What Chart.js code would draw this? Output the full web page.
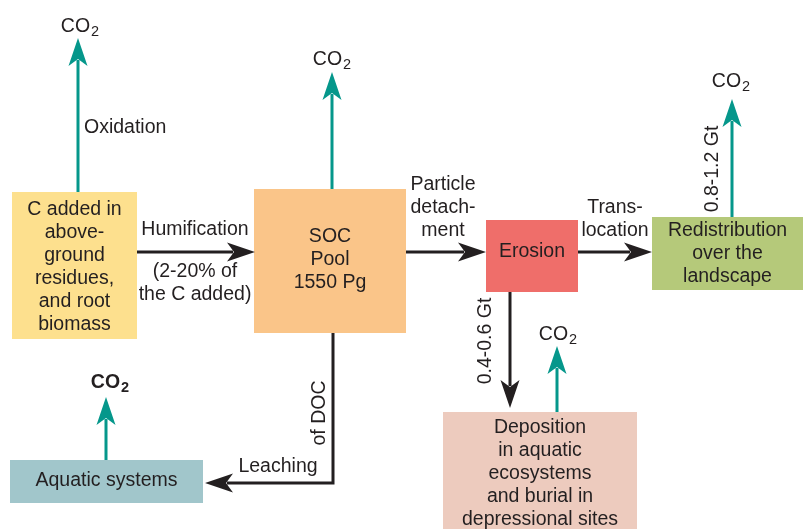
<!DOCTYPE html>
<html>
<head>
<meta charset="utf-8">
<script src="https://cdn.jsdelivr.net/npm/chart.js@4.4.1/dist/chart.umd.min.js"></script>
<style>
  html, body { margin: 0; padding: 0; background: #fff; }
  #chart { display: block; }
</style>
</head>
<body>
<canvas id="chart" width="803" height="529"></canvas>
<script>
// Pools of the soil carbon budget, one entry per line of text
const boxLines = [
  ['C added in', 'above-', 'ground', 'residues,', 'and root', 'biomass'],
  ['SOC', 'Pool', '1550 Pg'],
  ['Erosion'],
  ['Redistribution', 'over the', 'landscape'],
  ['Deposition', 'in aquatic', 'ecosystems', 'and burial in', 'depressional sites'],
  ['Aquatic systems']
];

// Process labels on the flows
const oxidationLabel = ['Oxidation'];
const humificationLabel = ['Humification'];
const humificationShare = ['(2-20% of', 'the C added)'];
const detachmentLabel = ['Particle', 'detach-', 'ment'];
const translocationLabel = ['Trans-', 'location'];
const leachingLabel = ['Leaching'];
const docLabel = 'of DOC';

// Fluxes (rotated labels)
const depositionFlux = '0.4-0.6 Gt';
const emissionFlux = '0.8-1.2 Gt';

// Gas released
const gasName = 'CO';
const gasIndex = '2';

// ---- layout (diagram units = pixels of the 803x529 frame) ----
const boxRects = [
  [12, 192, 137, 339],
  [254, 189, 406, 333],
  [486, 220, 578, 292],
  [652, 217, 803, 290],
  [443, 412, 637, 535],
  [10, 460, 203, 503]
];
const boxTextCenter = [267, 260, 252, 254, 474, 481];
const boxColors = ['#fde08e', '#fac589', '#ef6e6a', '#b5c97a', '#edcbbe', '#a1c6cb'];

// teal CO2 arrows: x, from y, tip y, label centre x, label baseline, bold
const gasArrows = [
  [78, 192, 38, 80, 32, false],
  [332, 189, 72, 332, 65, false],
  [732, 217, 99, 731, 87, false],
  [557, 412, 346, 558, 340, false],
  [106, 460, 397, 110, 388, true]
];

const TEAL = '#05978b';
const INK = '#231f20';
const FONT = '"Liberation Sans", Arial, sans-serif';

function drawArrowHead(ctx, x1, y1, x2, y2, color) {
  const dx = x2 - x1, dy = y2 - y1;
  const len = Math.hypot(dx, dy);
  const ux = dx / len, uy = dy / len;
  const nx = -uy, ny = ux;
  const L = 28, W = 9.5, N = 21;
  ctx.fillStyle = color;
  ctx.beginPath();
  ctx.moveTo(x2, y2);
  ctx.lineTo(x2 - ux * L + nx * W, y2 - uy * L + ny * W);
  ctx.lineTo(x2 - ux * N, y2 - uy * N);
  ctx.lineTo(x2 - ux * L - nx * W, y2 - uy * L - ny * W);
  ctx.closePath();
  ctx.fill();
}

function drawArrow(ctx, pts, color) {
  // pts: list of [x, y] pixel points, arrowhead at last
  const n = pts.length;
  const [ax, ay] = pts[n - 2];
  const [bx, by] = pts[n - 1];
  const len = Math.hypot(bx - ax, by - ay);
  const ex = bx - (bx - ax) / len * 22, ey = by - (by - ay) / len * 22;
  ctx.strokeStyle = color;
  ctx.lineWidth = 3;
  ctx.lineJoin = 'miter';
  ctx.beginPath();
  ctx.moveTo(pts[0][0], pts[0][1]);
  for (let i = 1; i < n - 1; i++) ctx.lineTo(pts[i][0], pts[i][1]);
  ctx.lineTo(ex, ey);
  ctx.stroke();
  drawArrowHead(ctx, ax, ay, bx, by, color);
}

function drawLines(ctx, lines, cx, cy, lh) {
  ctx.textAlign = 'center';
  ctx.textBaseline = 'middle';
  const top = cy - (lines.length - 1) * lh / 2;
  lines.forEach((t, i) => ctx.fillText(t, cx, top + i * lh));
}

function drawRotated(ctx, text, cx, cy) {
  ctx.save();
  ctx.translate(cx, cy);
  ctx.rotate(-Math.PI / 2);
  ctx.textAlign = 'center';
  ctx.textBaseline = 'middle';
  ctx.fillText(text, 0, 0);
  ctx.restore();
}

function drawGas(ctx, cx, base, bold) {
  const w = bold ? 'bold ' : '';
  const big = w + '19.5px ' + FONT;
  const small = w + '14.5px ' + FONT;
  ctx.textAlign = 'left';
  ctx.textBaseline = 'alphabetic';
  ctx.font = big;
  const w1 = ctx.measureText(gasName).width;
  ctx.font = small;
  const w2 = ctx.measureText(gasIndex).width;
  const x0 = cx - (w1 + w2 + 1) / 2;
  ctx.font = big;
  ctx.fillText(gasName, x0, base);
  ctx.font = small;
  ctx.fillText(gasIndex, x0 + w1 + 1, base + 4);
}

const diagramPlugin = {
  id: 'diagram',
  afterDraw(chart) {
    const ctx = chart.ctx;
    const X = v => chart.scales.x.getPixelForValue(v);
    const Y = v => chart.scales.y.getPixelForValue(v);
    ctx.save();

    // pools
    boxRects.forEach((r, i) => {
      ctx.fillStyle = boxColors[i];
      ctx.fillRect(X(r[0]), Y(r[1]), X(r[2]) - X(r[0]), Y(r[3]) - Y(r[1]));
    });

    // CO2 release
    gasArrows.forEach(a => {
      drawArrow(ctx, [[X(a[0]), Y(a[1])], [X(a[0]), Y(a[2])]], TEAL);
    });

    // carbon transfers
    drawArrow(ctx, [[X(137), Y(252)], [X(255), Y(252)]], INK);
    drawArrow(ctx, [[X(406), Y(252)], [X(486), Y(252)]], INK);
    drawArrow(ctx, [[X(578), Y(252)], [X(652), Y(252)]], INK);
    drawArrow(ctx, [[X(510), Y(292)], [X(510), Y(408)]], INK);
    drawArrow(ctx, [[X(333), Y(333)], [X(333), Y(483)], [X(205), Y(483)]], INK);

    // text
    ctx.fillStyle = INK;
    ctx.font = '19.5px ' + FONT;
    boxLines.forEach((lines, i) => {
      const r = boxRects[i];
      drawLines(ctx, lines, X((r[0] + r[2]) / 2), Y(boxTextCenter[i]), 23);
    });
    ctx.textAlign = 'left';
    ctx.textBaseline = 'middle';
    ctx.fillText(oxidationLabel[0], X(84), Y(128));
    drawLines(ctx, humificationLabel, X(195), Y(230), 23);
    drawLines(ctx, humificationShare, X(195), Y(283), 23);
    drawLines(ctx, detachmentLabel, X(443), Y(208), 23);
    drawLines(ctx, translocationLabel, X(615), Y(219), 23);
    drawLines(ctx, leachingLabel, X(278), Y(467), 23);
    drawRotated(ctx, docLabel, X(320), Y(413));
    drawRotated(ctx, depositionFlux, X(486), Y(341));
    drawRotated(ctx, emissionFlux, X(713), Y(169));

    gasArrows.forEach(a => drawGas(ctx, X(a[3]), Y(a[4]), a[5]));
    ctx.restore();
  }
};

new Chart(document.getElementById('chart'), {
  type: 'scatter',
  data: { datasets: [{ data: [], pointRadius: 0 }] },
  options: {
    responsive: false,
    animation: false,
    layout: { padding: 0 },
    scales: {
      x: { type: 'linear', min: 0, max: 803, display: false },
      y: { type: 'linear', min: 0, max: 529, reverse: true, display: false }
    },
    plugins: { legend: { display: false }, tooltip: { enabled: false } }
  },
  plugins: [diagramPlugin]
});
</script>
</body>
</html>
